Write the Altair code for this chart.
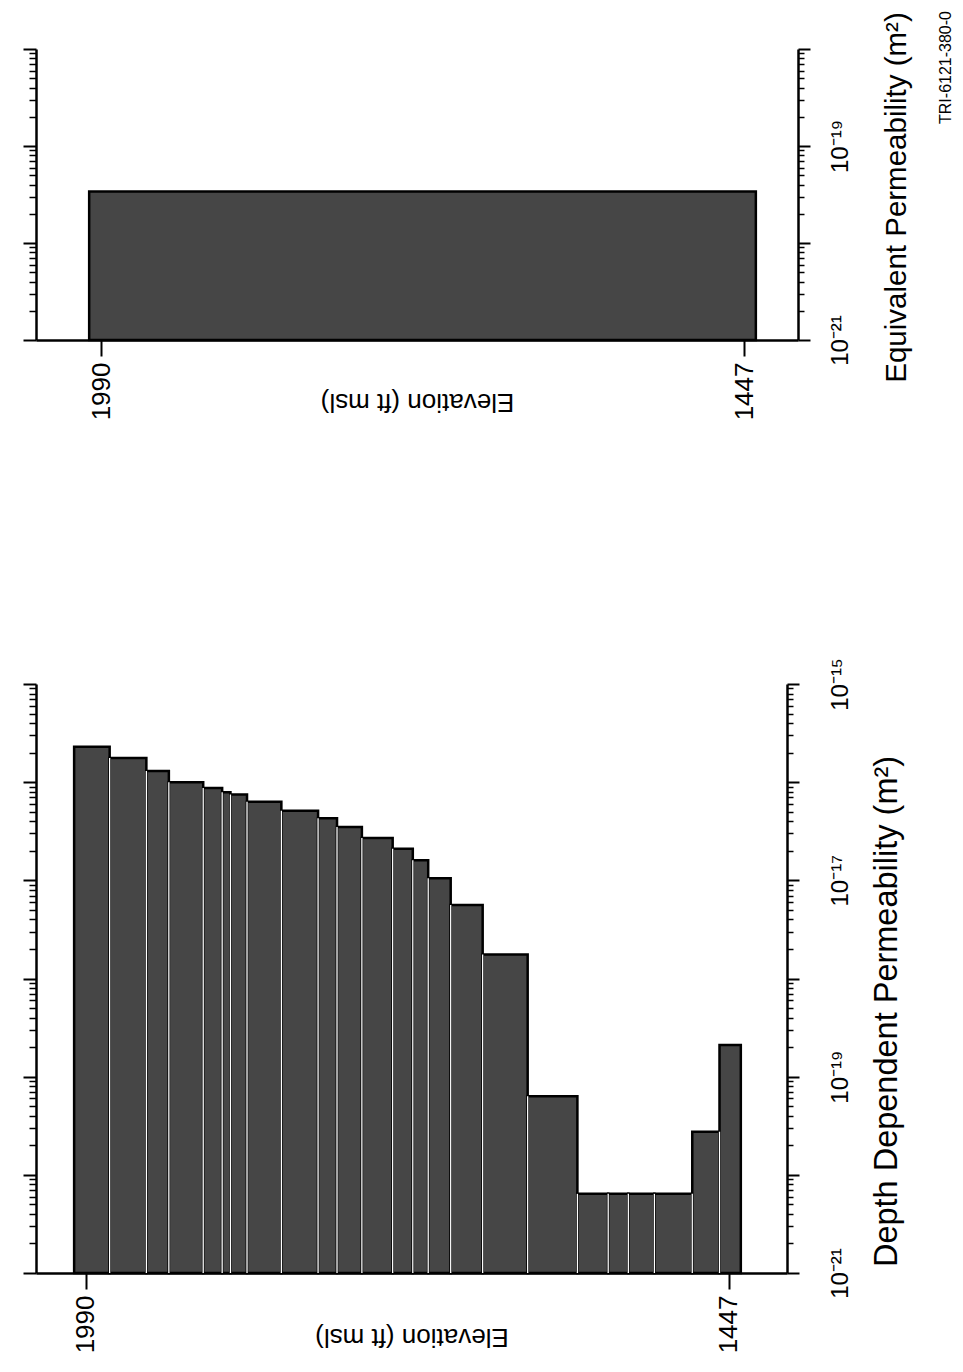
import altair as alt
import pandas as pd

FONT = "Liberation Sans"
FILL = "#464646"

# ---- Depth dependent permeability (lower panel) ----
# layer tops / bottoms (elevation, ft msl) and permeability (m^2)
dd_top = [2000, 1970, 1939, 1920, 1891, 1875, 1868, 1854, 1825, 1794, 1778, 1757,
          1731, 1714, 1701, 1682, 1655, 1617, 1575, 1549, 1532, 1510, 1478, 1455]
dd_bottom = [1970, 1939, 1920, 1891, 1875, 1868, 1854, 1825, 1794, 1778, 1757, 1731,
             1714, 1701, 1682, 1655, 1617, 1575, 1549, 1532, 1510, 1478, 1455, 1437]
dd_perm = [2.3e-16, 1.76e-16, 1.3e-16, 1.0e-16, 8.7e-17, 7.9e-17, 7.5e-17, 6.3e-17,
           5.1e-17, 4.3e-17, 3.5e-17, 2.7e-17, 2.1e-17, 1.6e-17, 1.05e-17, 5.6e-18,
           1.76e-18, 6.3e-20, 6.4e-21, 6.4e-21, 6.4e-21, 6.4e-21, 2.75e-20, 2.1e-19]

# ---- Equivalent permeability (upper panel) ----
eq_top = [2000]
eq_bottom = [1437]
eq_perm = [3.4e-20]

elev_ticks = [1990, 1447]
base_perm = 1e-21
sup = {-21: "⁻²¹", -20: "⁻²⁰", -19: "⁻¹⁹", -18: "⁻¹⁸", -17: "⁻¹⁷", -16: "⁻¹⁶", -15: "⁻¹⁵"}
fig_code = "TRI-6121-380-0"


def label_expr(exps):
    s = "''"
    for e in reversed(exps):
        s = f"round(log(datum.value)/LN10) == {e} ? '10{sup[e]}' : " + s
    return s


def panel(top, bottom, perm, e_lo, e_hi, label_exps, x_domain, width, height,
          ytitle, title_size, title_x, title_y, label_pad, xtitle_y, code=False):
    df = pd.DataFrame({"top": top, "bottom": bottom, "perm": perm})
    df["base"] = base_perm
    seps = pd.DataFrame({
        "elev": bottom[:-1],
        "lo": [base_perm] * (len(perm) - 1),
        "hi": [min(a, b) for a, b in zip(perm[:-1], perm[1:])],
    })
    if len(seps) == 0:
        seps = pd.DataFrame({"elev": [top[0]], "lo": [base_perm], "hi": [base_perm]})
    decades = [10.0 ** e for e in range(e_lo, e_hi + 1)]
    minors = [m * 10.0 ** e for e in range(e_lo, e_hi) for m in range(2, 10)]
    yscale = alt.Scale(type="log", domain=[10.0 ** e_lo, 10.0 ** e_hi], nice=False)
    xscale = alt.Scale(domain=x_domain, nice=False, zero=False)

    xaxis = alt.Axis(
        values=elev_ticks, format="d", title="Elevation (ft msl)",
        labelFont=FONT, labelFontSize=26, labelAngle=270, labelAlign="right",
        labelBaseline="middle", labelPadding=6, labelFlush=False, labelOverlap=False,
        labelColor="black", tickSize=16, tickWidth=2, tickColor="black",
        domainWidth=2.5, domainColor="black", grid=False,
        titleFont=FONT, titleFontSize=26, titleFontWeight="normal", titleColor="black",
        titleAngle=180, titleBaseline="middle", titleAlign="center",
        titleX=width / 2, titleY=xtitle_y,
    )
    yaxis_major = alt.Axis(
        orient="right", values=decades, labelExpr=label_expr(label_exps),
        labelFont=FONT, labelFontSize=24, labelAngle=270, labelAlign="center",
        labelBaseline="top", labelPadding=label_pad, labelFlush=False,
        labelOverlap=False, labelBound=False, labelColor="black",
        tickSize=12, tickWidth=2, tickColor="black",
        domainWidth=2.5, domainColor="black", grid=False,
        title=ytitle, titleFont=FONT, titleFontSize=title_size, titleFontWeight="normal",
        titleColor="black", titleAngle=270, titleAlign="center", titleBaseline="middle",
        titleX=title_x, titleY=title_y,
    )
    yaxis_minor = alt.Axis(orient="right", values=minors, labels=False, tickSize=6,
                           tickWidth=1.5, tickColor="black", domain=False, grid=False, title=None)
    yaxis_lmajor = alt.Axis(orient="left", values=decades, labels=False, tickSize=13,
                            tickWidth=2, tickColor="black", domainWidth=2.5,
                            domainColor="black", grid=False, title=None)
    yaxis_lminor = alt.Axis(orient="left", values=minors, labels=False, tickSize=7,
                            tickWidth=1.5, tickColor="black", domain=False, grid=False, title=None)

    bars = alt.Chart(df).mark_rect(fill=FILL, stroke="black", strokeWidth=2.5).encode(
        x=alt.X("top:Q", scale=xscale, axis=xaxis),
        x2="bottom:Q",
        y=alt.Y("perm:Q", scale=yscale, axis=yaxis_major),
        y2="base:Q",
    )
    sep = alt.Chart(seps).mark_rule(stroke="white", strokeWidth=1.3).encode(
        x=alt.X("elev:Q", scale=xscale, axis=None),
        y=alt.Y("lo:Q", scale=yscale, axis=yaxis_minor),
        y2="hi:Q",
    )
    ghost1 = alt.Chart(df).mark_rect(opacity=0).encode(
        x=alt.X("top:Q", scale=xscale, axis=None), x2="bottom:Q",
        y=alt.Y("perm:Q", scale=yscale, axis=yaxis_lmajor), y2="base:Q",
    )
    ghost2 = alt.Chart(df).mark_rect(opacity=0).encode(
        x=alt.X("top:Q", scale=xscale, axis=None), x2="bottom:Q",
        y=alt.Y("perm:Q", scale=yscale, axis=yaxis_lminor), y2="base:Q",
    )
    layers = [bars, sep, ghost1, ghost2]
    if code:
        txt = alt.Chart(pd.DataFrame({"t": [fig_code]})).mark_text(
            font=FONT, fontSize=16, angle=270, align="right", baseline="middle",
            color="black",
        ).encode(text="t:N", x=alt.value(width + 148), y=alt.value(-38))
        layers.append(txt)
    return alt.layer(*layers).resolve_axis(x="independent", y="independent").properties(
        width=width, height=height
    )


top_panel = panel(eq_top, eq_bottom, eq_perm, -21, -18, [-21, -19], [2044.9, 1401.4],
                  762, 291, "Equivalent Permeability (m²)", 29.5, 98, 148, 18, 61, code=True)
bottom_panel = panel(dd_top, dd_bottom, dd_perm, -21, -15, [-21, -19, -17, -15],
                     [2032.2, 1398.0], 751, 589, "Depth Dependent Permeability (m²)",
                     32.5, 99, 327, 29, 63)

chart = alt.vconcat(top_panel, bottom_panel, spacing=344).properties(
    bounds="flush",
    padding={"left": 14, "top": 3, "right": 0, "bottom": 0},
).configure(background="white").configure_view(stroke=None)

chart.save("out.html", embed_options={"renderer": "svg", "actions": False})
